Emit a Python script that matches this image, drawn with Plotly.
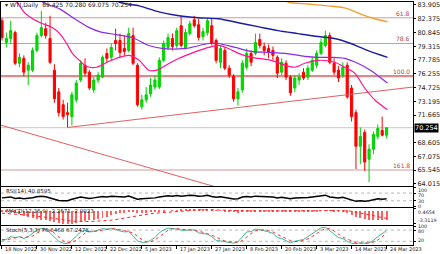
import plotly.graph_objects as go

W, H = 440, 254

# ---------------- data ----------------
bar_idx = list(range(89))
open_ = [82.15,79.73,80.17,80.83,77.42,77.97,76.65,76.65,78.85,80.50,81.27,80.17,76.65,74.24,72.81,71.93,71.49,73.36,75.55,77.20,
         76.43,74.46,75.55,75.88,78.52,78.08,79.95,79.95,79.07,78.85,80.50,77.20,72.59,73.36,74.02,74.78,74.78,77.75,79.18,80.17,
         79.40,81.60,79.18,80.72,82.26,81.71,80.39,80.83,81.60,79.95,77.53,78.85,76.87,75.99,73.47,74.46,76.98,78.52,78.52,80.06,
         79.29,79.07,78.85,78.08,76.43,77.42,75.88,74.67,75.55,76.43,75.88,76.65,77.20,78.52,79.40,80.50,77.42,76.65,76.10,77.20,
         74.67,71.93,68.19,69.73,66.76,67.86,69.29,69.95,69.42]
high_ = [82.48,80.83,82.15,81.05,78.52,78.30,77.53,79.18,80.83,83.25,81.93,82.70,77.31,74.67,73.36,73.03,74.24,75.55,77.75,77.97,
         76.65,75.88,76.43,78.30,79.07,79.62,81.27,80.72,80.50,81.38,81.38,77.42,73.91,74.78,75.77,76.10,78.08,79.95,80.72,80.72,
         81.38,82.70,81.27,82.15,82.70,82.37,81.38,82.48,82.37,80.17,79.40,79.18,77.20,76.21,74.67,77.75,79.07,78.85,80.72,80.72,
         79.73,79.51,79.29,78.30,77.97,77.75,76.10,76.10,76.32,76.87,77.20,78.08,78.85,80.17,81.05,80.83,77.97,77.09,77.53,77.53,
         75.00,72.26,70.28,70.06,68.41,69.84,70.61,71.49,70.28]
low_ = [79.95,79.18,79.62,77.20,76.98,75.99,75.00,76.43,78.63,80.28,80.17,77.31,73.03,71.49,71.16,70.28,70.50,73.03,75.33,75.99,
        74.46,74.13,75.22,75.77,77.53,77.75,78.85,77.97,78.30,78.63,77.20,72.59,72.26,73.03,73.69,74.46,74.56,77.53,78.85,78.85,
        79.07,79.18,78.96,80.50,81.38,79.95,79.95,80.50,79.40,77.42,76.87,76.65,75.77,73.14,72.70,74.13,76.65,77.09,78.30,79.07,
        78.30,77.97,77.75,75.77,76.10,75.55,73.80,74.24,75.00,75.55,75.55,76.43,76.87,78.30,79.18,77.31,76.10,75.33,75.77,73.47,
        70.94,65.66,66.21,65.44,64.20,67.31,68.96,69.29,69.075]
close_ = [80.28,80.17,81.05,77.42,78.08,76.43,77.20,78.85,80.50,81.38,80.50,77.53,73.47,71.93,71.49,71.71,73.91,75.22,77.42,76.32,
          74.67,75.55,76.10,78.08,77.97,79.18,79.62,78.63,78.74,80.72,77.42,72.81,73.36,73.91,75.00,75.55,77.75,79.62,80.28,79.29,
          81.05,79.40,80.83,81.82,81.60,80.28,80.94,82.15,79.62,77.75,79.07,76.87,76.10,73.47,74.24,77.42,78.52,77.53,79.73,79.40,
          78.85,78.63,78.30,76.32,77.53,75.88,74.13,75.77,75.88,75.77,76.87,77.75,78.52,79.73,80.50,77.53,76.43,75.77,76.98,73.69,
          71.49,68.19,69.29,66.43,67.86,69.51,70.17,69.42,70.254]

# moving averages read at sampled bars
ma_fast_idx = [0,3.4,5.2,7.0,9.3,11.6,13.2,14.8,16.1,17.7,19.3,21.6,24.5,26.8,29.1,31.4,33.6,35.5,37.5,40.5,43.9,47.3,49.5,51.8,54.1,57.0,61.6,64.8,67.0,69.3,72.3,76.1,78.4,80.7,83.0,85.5,88.2]
ma_fast_val = [86.0,84.23,83.03,82.37,81.82,81.38,80.72,79.62,78.52,77.75,77.09,76.98,77.64,78.08,78.30,77.75,76.65,76.65,77.20,77.97,78.63,79.18,79.40,79.07,78.52,78.08,77.75,77.20,76.98,77.42,77.75,77.53,76.98,76.32,74.67,73.25,72.26]
ma_mid_idx = [5.2,9.3,13.2,16.6,20.0,22.3,26.1,29.8,33.6,36.6,42.0,47.3,49.5,53.4,57.0,60.9,64.8,69.3,72.3,75.2,78.4,81.4,84.3,88.2]
ma_mid_val = [86.5,84.23,83.47,82.37,81.38,80.94,80.61,80.28,79.40,79.07,79.07,79.62,79.62,79.18,78.74,78.63,78.52,78.19,78.08,78.08,77.97,77.42,76.65,75.22]
ma_slow_idx = [22.3,26.8,31.4,35.9,40.5,45.0,49.5,54.1,58.6,63.2,67.7,72.3,76.1,79.8,83.6,88.2]
ma_slow_val = [85.5,84.23,83.80,83.14,82.70,82.48,82.37,81.93,81.49,81.05,80.72,80.39,80.17,79.62,78.85,78.08]
ma_long_idx = [60.9,65.5,70.0,74.5,78.4,82.0,85.2,88.2]
ma_long_val = [85.45,84.23,84.01,83.80,83.58,82.92,82.37,82.04]

fib_levels = [82.48, 79.62, 75.99, 65.55]
fib_labels = ["61.8", "78.6", "100.0", "161.8"]
fib_widths = [1, 1, 2.2, 1]

trend_up_idx = [15, 94.1]
trend_up_val = [70.28, 74.78]
trend_dn_idx = [-1, 60]
trend_dn_val = [70.64, 62.12]

last_price = 70.254
price_ticks = [83.905, 82.375, 80.845, 79.315, 77.785, 76.255, 74.725, 73.195, 71.665, 68.605, 67.075, 65.545, 64.015]

rsi = [45,47,50,42,44,40,42,46,51,54,51,43,36,31,30,30,38,43,49,46,42,45,47,52,50,53,52,50,50,55,47,38,40,41,43,45,50,54,56,54,
       57,53,56,58,57,54,55,58,52,48,51,46,44,39,41,49,52,50,54,53,51,51,50,45,48,44,40,44,45,44,47,50,53,57,59,50,47,45,48,40,
       33,27,30,27,30,35,40,38,40.86]
macd_main = [-0.2,-0.3,-0.35,-0.5,-0.8,-1.2,-1.6,-1.9,-2.1,-2.2,-2.3,-2.6,-2.9,-3.1,-3.3,-3.31,-3.2,-3.0,-2.8,-2.6,
             -2.4,-2.2,-2.0,-1.7,-1.4,-0.9,-0.7,-0.5,-0.4,-0.2,-0.25,-0.4,-0.45,-0.4,-0.35,-0.3,-0.2,-0.1,0.0,0.1,
             0.2,0.25,0.3,0.4,0.45,0.47,0.45,0.46,0.35,0.1,0.05,-0.1,-0.2,-0.35,-0.4,-0.3,-0.2,-0.15,-0.1,-0.05,
             -0.05,-0.05,-0.1,-0.15,-0.15,-0.2,-0.3,-0.3,-0.3,-0.3,-0.25,-0.2,-0.1,0.0,0.1,0.05,-0.05,-0.15,-0.2,-0.5,
             -0.95,-1.5,-1.8,-2.1,-2.3,-2.35,-2.3,-2.3,-2.2671]
macd_signal = [-0.7,-0.75,-0.8,-0.85,-0.9,-1.0,-1.15,-1.3,-1.4,-1.55,-1.7,-1.85,-2.0,-2.2,-2.4,-2.6,-2.7,-2.75,-2.8,-2.8,
               -2.8,-2.75,-2.7,-2.65,-2.6,-2.45,-2.3,-2.1,-1.9,-1.7,-1.5,-1.3,-1.1,-0.95,-0.8,-0.7,-0.6,-0.5,-0.4,-0.3,
               -0.2,-0.1,0.0,0.05,0.1,0.15,0.2,0.2,0.2,0.2,0.15,0.1,0.05,0.0,-0.05,-0.1,-0.1,-0.1,-0.1,-0.1,
               -0.1,-0.1,-0.1,-0.1,-0.1,-0.1,-0.15,-0.15,-0.2,-0.2,-0.2,-0.2,-0.15,-0.1,-0.05,0.0,0.0,0.0,-0.05,-0.1,
               -0.2,-0.4,-0.6,-0.85,-1.1,-1.35,-1.55,-1.8,-2.0023]
stoch_main = [25,30,45,40,45,35,45,65,80,88,85,65,40,20,10,8,25,45,70,78,70,72,80,88,85,88,85,75,70,72,
              50,22,15,15,25,40,65,82,90,88,85,80,78,82,80,65,60,58,45,25,22,18,15,10,18,45,70,72,85,82,
              78,70,62,40,35,25,12,20,25,30,45,62,78,92,95,75,55,40,35,20,10,8,12,10,12,25,45,62,76.85]
stoch_signal = [30,28,33,38,43,40,42,48,63,78,84,79,63,42,23,13,14,26,47,64,73,73,74,80,84,87,86,83,77,72,
                64,48,29,17,18,27,43,62,79,87,88,84,81,80,80,76,68,61,54,43,31,22,18,14,14,24,44,62,76,80,
                82,77,70,57,46,33,24,19,19,25,33,46,62,77,88,87,75,57,43,32,22,13,10,10,11,16,27,44,67.25]

date_idx = [0, 8, 16, 24, 32, 40, 48, 56, 64, 72, 80, 88]
date_lbl = ["18 Nov 2022", "30 Nov 2022", "12 Dec 2022", "22 Dec 2022", "5 Jan 2023", "17 Jan 2023",
            "27 Jan 2023", "8 Feb 2023", "20 Feb 2023", "3 Mar 2023", "14 Mar 2023", "24 Mar 2023"]

rsi_ticks = [100, 70, 30, 0]
rsi_tick_lbl = ["100", "70", "30", "0"]
macd_ticks = [0.4654, -3.3119]
macd_tick_lbl = ["0.4654", "-3.3119"]
stoch_ticks = [100, 80, 20]
stoch_tick_lbl = ["100", "80", "20"]

title_txt = "WTI,Daily  69.425 70.280 69.075 70.254"
rsi_txt = "RSI(14) 40.8595"
macd_txt = "MACD(12,26,9) -2.2671 -2.0023"
stoch_txt = "Stoch(5,3,3) 76.8468 67.2478"

# ---------------- layout helpers ----------------
def px(x):
    return x / W

def py(y):
    return 1 - y / H

XDOM = [px(1), px(416)]
XR = [-0.227, 94.09]
FONT = "DejaVu Sans"
TXT = "#222222"

fig = go.Figure()

for lvl, wd in zip(fib_levels, fib_widths):
    fig.add_shape(type="line", xref="x domain", x0=0, x1=1, yref="y", y0=lvl, y1=lvl,
                  line=dict(color="#d98c8c" if wd > 1 else "#cf9a9a", width=wd), layer="below")
fig.add_shape(type="line", xref="x domain", x0=0, x1=1, yref="y", y0=last_price, y1=last_price,
              line=dict(color="#c8c8c8", width=1), layer="below")

fig.add_trace(go.Scatter(x=trend_up_idx, y=trend_up_val, mode="lines",
                         line=dict(color="#e06060", width=1), hoverinfo="skip", xaxis="x", yaxis="y"))
fig.add_trace(go.Scatter(x=trend_dn_idx, y=trend_dn_val, mode="lines",
                         line=dict(color="#e06060", width=1), hoverinfo="skip", xaxis="x", yaxis="y"))

for xi, yv, col, wd in [(ma_long_idx, ma_long_val, "#f0a030", 1.4),
                        (ma_slow_idx, ma_slow_val, "#1c1c9c", 1.4),
                        (ma_mid_idx, ma_mid_val, "#8a2be2", 1.2),
                        (ma_fast_idx, ma_fast_val, "#ff1493", 1.2)]:
    fig.add_trace(go.Scatter(x=xi, y=yv, mode="lines", line=dict(color=col, width=wd, shape="spline", smoothing=0.8),
                             hoverinfo="skip", xaxis="x", yaxis="y"))

fig.add_trace(go.Candlestick(x=bar_idx, open=open_, high=high_, low=low_, close=close_,
                             increasing=dict(line=dict(color="#00d000", width=1), fillcolor="#00e000"),
                             decreasing=dict(line=dict(color="#ff0000", width=1), fillcolor="#ff0000"),
                             whiskerwidth=0, xaxis="x", yaxis="y", hoverinfo="skip"))

# RSI
for lv in [70, 30]:
    fig.add_shape(type="line", xref="x2 domain", x0=0, x1=1, yref="y2", y0=lv, y1=lv,
                  line=dict(color="#b8b8b8", width=1, dash="dot"), layer="below")
fig.add_trace(go.Scatter(x=bar_idx, y=rsi, mode="lines", line=dict(color="#000000", width=1.5),
                         hoverinfo="skip", xaxis="x2", yaxis="y2"))

# MACD
fig.add_trace(go.Bar(x=bar_idx, y=macd_main, width=0.22, marker=dict(color="#ff6060", line=dict(width=0)),
                     hoverinfo="skip", xaxis="x3", yaxis="y3"))
fig.add_trace(go.Scatter(x=bar_idx, y=macd_signal, mode="lines", line=dict(color="#ff2020", width=1, dash="dot"),
                         hoverinfo="skip", xaxis="x3", yaxis="y3"))

# Stochastic
for lv in [80, 20]:
    fig.add_shape(type="line", xref="x4 domain", x0=0, x1=1, yref="y4", y0=lv, y1=lv,
                  line=dict(color="#b8b8b8", width=1, dash="dot"), layer="below")
fig.add_trace(go.Scatter(x=bar_idx, y=stoch_main, mode="lines", line=dict(color="#3cb896", width=1),
                         hoverinfo="skip", xaxis="x4", yaxis="y4"))
fig.add_trace(go.Scatter(x=bar_idx, y=stoch_signal, mode="lines", line=dict(color="#ff3030", width=1, dash="dot"),
                         hoverinfo="skip", xaxis="x4", yaxis="y4"))

axis_common = dict(showgrid=False, zeroline=False, showline=True, mirror=True, linecolor="#000000", linewidth=1)

def xax(anchor, ticks=False):
    d = dict(domain=XDOM, range=XR, anchor=anchor, showticklabels=False, **axis_common)
    if ticks:
        d.update(tickmode="array", tickvals=date_idx, ticks="outside", ticklen=3, tickcolor="#000")
    else:
        d.update(ticks="")
    return d

def yax(anchor, dom, rng, tv, tt=None):
    d = dict(domain=dom, range=rng, anchor=anchor, side="right", tickmode="array", tickvals=tv,
             ticks="outside", ticklen=2, tickcolor="#000", **axis_common)
    if tt is None:
        d.update(showticklabels=False)
    else:
        d.update(ticktext=tt, tickfont=dict(family=FONT, size=6.5, color=TXT))
    return d

fig.update_layout(
    width=W, height=H, margin=dict(l=0, r=0, t=0, b=0), autosize=False,
    paper_bgcolor="white", plot_bgcolor="white", showlegend=False,
    xaxis=dict(xax("y"), rangeslider=dict(visible=False)),
    xaxis2=xax("y2"), xaxis3=xax("y3"), xaxis4=xax("y4", ticks=True),
    yaxis=yax("x", [py(187.5), py(1)], [63.74, 84.235], price_ticks, ["%.3f" % v for v in price_ticks]),
    yaxis2=yax("x2", [py(208), py(188.5)], [0, 100], rsi_ticks),
    yaxis3=yax("x3", [py(227), py(209)], [-3.75, 0.75], macd_ticks),
    yaxis4=yax("x4", [py(247), py(228)], [0, 100], stoch_ticks),
    bargap=0,
)

ann = []
ann.append(dict(x=px(3), y=py(4), xref="paper", yref="paper", text="▾ " + title_txt, showarrow=False,
                xanchor="left", yanchor="middle", font=dict(family=FONT, size=6, color=TXT)))
for t, yy in [(rsi_txt, 192), (macd_txt, 212.5), (stoch_txt, 231.5)]:
    ann.append(dict(x=px(4), y=py(yy), xref="paper", yref="paper", text=t, showarrow=False,
                    xanchor="left", yanchor="middle", font=dict(family=FONT, size=5.5, color=TXT)))
# sub-window scale labels (placed where the reference prints them)
sub_lbl_y = [191.8, 196.6, 203, 207.6, 213.6, 222.6, 228.2, 233.0, 242.5]
for t, yy in zip(rsi_tick_lbl + macd_tick_lbl + stoch_tick_lbl, sub_lbl_y):
    ann.append(dict(x=px(419), y=py(yy), xref="paper", yref="paper", text=t, showarrow=False,
                    xanchor="left", yanchor="middle", font=dict(family=FONT, size=4.8, color=TXT)))
for lvl, lab in zip(fib_levels, fib_labels):
    ann.append(dict(x=px(415), y=lvl, xref="paper", yref="y", text=lab, showarrow=False,
                    xanchor="right", yanchor="bottom", yshift=-1, font=dict(family=FONT, size=6, color="#b04848")))
ann.append(dict(x=px(417), y=last_price, xref="paper", yref="y", text="70.254", showarrow=False,
                xanchor="left", yanchor="middle", bgcolor="#000000", borderpad=0,
                font=dict(family=FONT, size=6.5, color="#ffffff")))
for i, lab in zip(date_idx, date_lbl):
    ann.append(dict(x=i, y=py(251), xref="x4", yref="paper", text=lab, showarrow=False,
                    xanchor="left", yanchor="middle", xshift=1, font=dict(family=FONT, size=5, color=TXT)))
fig.update_layout(annotations=ann)

fig.write_html("out.html")
